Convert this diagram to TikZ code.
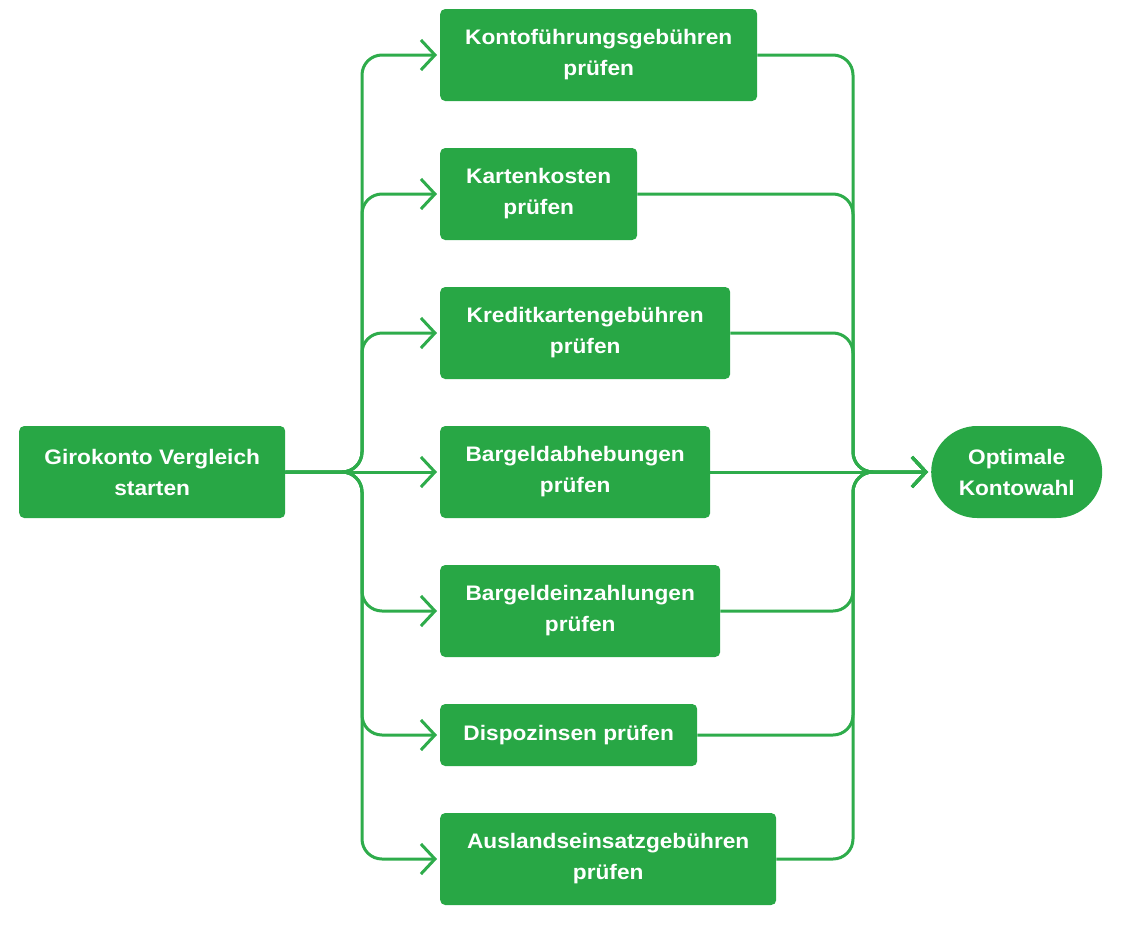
\documentclass[tikz,border=0pt]{standalone}
\usepackage{fontspec}
\setmainfont{Liberation Sans}[FakeStretch=1.08]
\usepackage{tikz}
\usetikzlibrary{arrows.meta, positioning, shapes.misc}
\definecolor{boxgreen}{HTML}{28A745}
\definecolor{linegreen}{HTML}{2EAC4B}

\begin{document}
\begin{tikzpicture}[
        x=1pt, y=-1pt,
        pruefbox/.style={rectangle, rounded corners=5pt, fill=boxgreen, text=white,
            font=\bfseries\fontsize{21}{31}\selectfont, align=center,
            minimum height=92pt, inner sep=0pt, anchor=west},
        zielbox/.style={rounded rectangle, fill=boxgreen, text=white,
            font=\bfseries\fontsize{21}{31}\selectfont, align=center,
            minimum height=92pt, minimum width=171pt, inner sep=0pt, anchor=west},
        link/.style={draw=linegreen, line width=3pt, rounded corners=20pt,
            -{Straight Barb[length=14pt, width=30pt]}, shorten >=3pt}
    ]
        \useasboundingbox (0,0) rectangle (1128,927);

        % Start
        \node[pruefbox, minimum width=266pt] (start) at (19,472) {Girokonto Vergleich\\starten};

        % Pruefschritte
        \node[pruefbox, minimum width=317pt] (konto) at (440,55) {Kontoführungsgebühren\\prüfen};
        \node[pruefbox, minimum width=197pt] (karten) at (440,194) {Kartenkosten\\prüfen};
        \node[pruefbox, minimum width=290pt] (kredit) at (440,333) {Kreditkartengebühren\\prüfen};
        \node[pruefbox, minimum width=270pt] (abheb) at (440,472) {Bargeldabhebungen\\prüfen};
        \node[pruefbox, minimum width=280pt] (einzahl) at (440,611) {Bargeldeinzahlungen\\prüfen};
        \node[pruefbox, minimum width=257pt, minimum height=62pt] (dispo) at (440,735) {Dispozinsen prüfen};
        \node[pruefbox, minimum width=336pt] (ausland) at (440,859) {Auslandseinsatzgebühren\\prüfen};

        % Ziel
        \node[zielbox] (ziel) at (931,472) {Optimale\\Kontowahl};

        % Verteiler
        \coordinate (spineL) at (362,472);
        \coordinate (spineR) at (853,472);

        % Verbindungen
        \foreach \n in {konto, karten, kredit, einzahl, dispo, ausland} {
            \draw[link] (start.east) -- (spineL) |- (\n.west);
            \draw[link] (\n.east) -| (spineR) -- (ziel.west);
        }
        \draw[link] (start.east) -- (abheb.west);
        \draw[link] (abheb.east) -- (ziel.west);

    \end{tikzpicture}
\end{document}
